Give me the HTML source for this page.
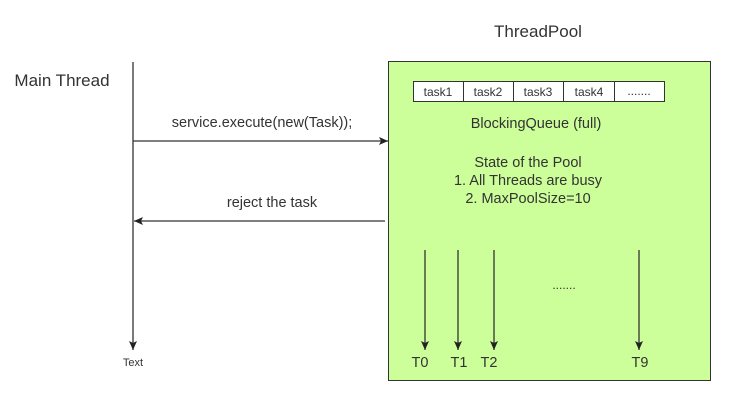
<!DOCTYPE html>
<html><head><style>
body{margin:0;width:748px;height:411px;background:#fff;overflow:hidden}
svg{display:block}
text{font-family:"Liberation Sans",sans-serif;fill:#333}
</style></head><body>
<svg width="748" height="411" viewBox="0 0 748 411">
<defs><marker id="a" markerWidth="10" markerHeight="10" refX="9" refY="5" orient="auto" markerUnits="userSpaceOnUse"><path d="M0,1 L9,5 L0,9 L2,5 Z" fill="#222"/></marker></defs>
<text x="538" y="37" font-size="17" text-anchor="middle">ThreadPool</text>
<text x="62" y="86" font-size="17" text-anchor="middle">Main Thread</text>
<rect x="388.5" y="61.5" width="322" height="319" fill="#ccff99" stroke="#333"/>
<g fill="#fff" stroke="#333">
<rect x="413.5" y="81.5" width="50" height="20"/><rect x="463.5" y="81.5" width="50" height="20"/>
<rect x="513.5" y="81.5" width="50" height="20"/><rect x="563.5" y="81.5" width="51" height="20"/>
<rect x="614.5" y="81.5" width="50" height="20"/></g>
<g font-size="12" text-anchor="middle">
<text x="438" y="96">task1</text><text x="488" y="96">task2</text><text x="538" y="96">task3</text><text x="589" y="96">task4</text><text x="639" y="95">.......</text>
<text x="133" y="366" font-size="11">Text</text>
<text x="564" y="289">.......</text>
</g>
<g font-size="14.5" text-anchor="middle">
<text x="536" y="128">BlockingQueue (full)</text>
<text x="528" y="167">State of the Pool</text>
<text x="528" y="185">1. All Threads are busy</text>
<text x="528" y="203">2. MaxPoolSize=10</text>
<text x="262" y="127">service.execute(new(Task));</text>
<text x="272" y="207">reject the task</text>
<text x="420" y="367">T0</text><text x="459" y="367">T1</text><text x="489" y="367">T2</text><text x="640" y="367">T9</text>
</g>
<g stroke="#333" stroke-width="1.3" marker-end="url(#a)">
<line x1="133" y1="62" x2="133" y2="350"/>
<line x1="133" y1="141" x2="388" y2="141"/>
<line x1="385" y1="221" x2="134" y2="221"/>
<line x1="425" y1="250" x2="425" y2="350"/>
<line x1="458" y1="250" x2="458" y2="350"/>
<line x1="494" y1="250" x2="494" y2="350"/>
<line x1="639" y1="250" x2="639" y2="350"/>
</g>
</svg>
</body></html>
